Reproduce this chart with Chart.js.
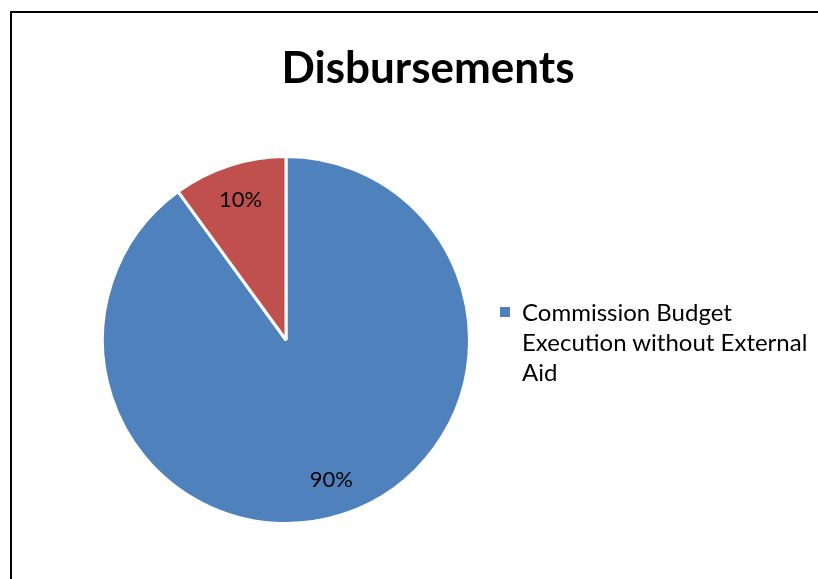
<!DOCTYPE html>
<html>
<head>
<meta charset="utf-8">
<script src="https://cdn.jsdelivr.net/npm/chart.js@4.4.1/dist/chart.umd.min.js"></script>
<style>
  html, body { margin: 0; padding: 0; background: #fff; overflow: hidden; }
  body { width: 818px; height: 579px; position: relative; }
  .marco { position: absolute; left: 10px; top: 11px; width: 900px; height: 700px; border: 2px solid #000; }
  #grafico { position: absolute; left: 0; top: 0; }
  .titulo { position: absolute; left: 11px; width: 834px; top: 40px; text-align: center;
            font-family: Lato, "Open Sans", sans-serif; font-weight: bold; font-size: 44px; line-height: 52px; color: #000; }
  .leyenda { position: absolute; left: 500px; top: 297px; width: 318px;
             font-family: Lato, "Open Sans", sans-serif; font-size: 24px; line-height: 30px; color: #000; }
  .leyenda .cuadro { position: absolute; left: 0; top: 10px; width: 10px; height: 10px; }
  .leyenda .texto { margin-left: 22px; }
</style>
</head>
<body>
<div class="marco"></div>
<canvas id="grafico" width="818" height="579"></canvas>
<div class="titulo" id="titulo"></div>
<div class="leyenda" id="leyenda"></div>
<script>
const titulo = 'Disbursements';
const categorias = ['Commission Budget Execution without External Aid', 'External Aid'];
const valores = [90, 10];
const colores = ['#4F81BD', '#C0504D'];
const fuente = 'Lato, "Open Sans", sans-serif';

// etiquetas de porcentaje dentro de cada porcion
const etiquetasPorcion = {
  id: 'etiquetasPorcion',
  afterDatasetsDraw(chart) {
    const ctx = chart.ctx;
    const meta = chart.getDatasetMeta(0);
    const total = valores.reduce((a, b) => a + b, 0);
    ctx.save();
    ctx.font = '22px ' + fuente;
    ctx.fillStyle = '#000';
    ctx.textAlign = 'center';
    ctx.textBaseline = 'middle';
    meta.data.forEach((arco, i) => {
      const p = arco.getProps(['x', 'y', 'startAngle', 'endAngle', 'outerRadius'], true);
      const medio = (p.startAngle + p.endAngle) / 2;
      const r = p.outerRadius * 0.8;
      const texto = Math.round(valores[i] / total * 100) + '%';
      ctx.fillText(texto, p.x + Math.cos(medio) * r, p.y + Math.sin(medio) * r);
    });
    ctx.restore();
  }
};

new Chart(document.getElementById('grafico').getContext('2d'), {
  type: 'pie',
  data: {
    labels: categorias,
    datasets: [{
      data: valores,
      backgroundColor: colores,
      borderColor: '#fff',
      borderWidth: 3
    }]
  },
  options: {
    responsive: false,
    animation: false,
    layout: { padding: { left: 101, right: 347, bottom: 54, top: 155 } },
    plugins: {
      legend: { display: false },
      tooltip: { enabled: false },
      title: { display: false }
    }
  },
  plugins: [etiquetasPorcion]
});

// titulo centrado sobre todo el marco, no solo sobre la torta
document.getElementById('titulo').textContent = titulo;

// leyenda: solo se ve la primera serie
const leyenda = document.getElementById('leyenda');
leyenda.innerHTML = '<span class="cuadro" style="background:' + colores[0] + '"></span>' +
  '<div class="texto">' + categorias[0] + '</div>';
</script>
</body>
</html>
